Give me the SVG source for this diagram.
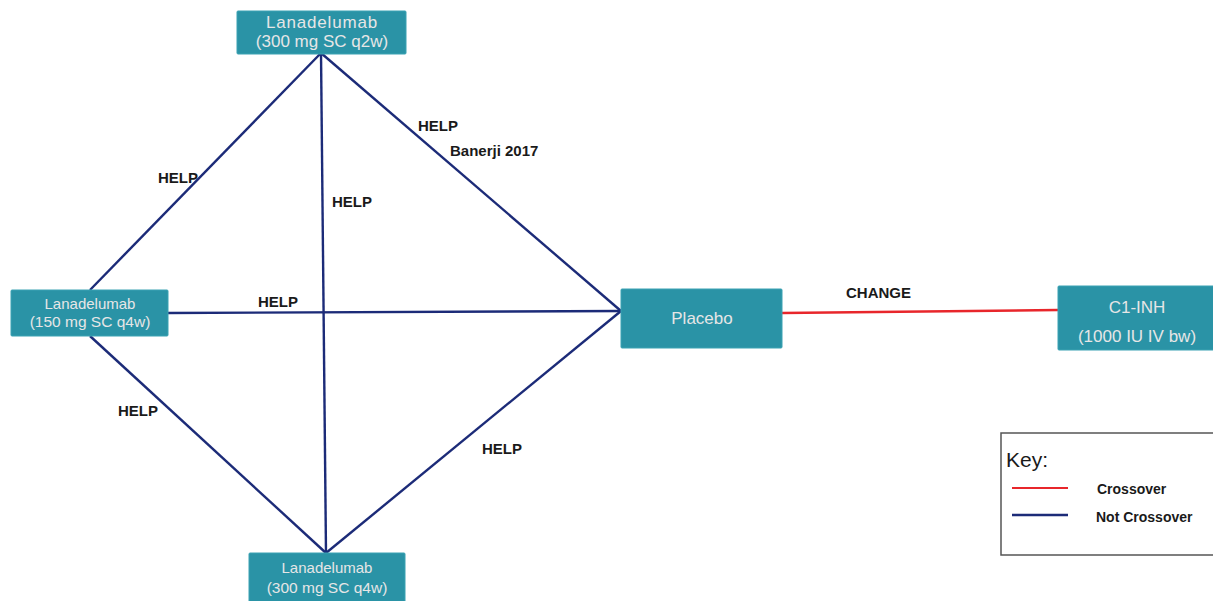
<svg xmlns="http://www.w3.org/2000/svg" width="1213" height="601" viewBox="0 0 1213 601">
<style>
.node{fill:#2a93a6;stroke:#3aa2b3;stroke-width:1}
.nt{font-family:"Liberation Sans",Arial,sans-serif;fill:#e6e6e6;text-anchor:middle}
.lbl{font-family:"Liberation Sans",Arial,sans-serif;font-weight:bold;font-size:15px;fill:#1a1a1a}
.blue{stroke:#1c2b78;stroke-width:2.4;fill:none}
.red{stroke:#e8262b;stroke-width:2.4;fill:none}
</style>
<rect width="1213" height="601" fill="#ffffff"/>
<g id="connectors">
<line class="blue" x1="321" y1="53" x2="621" y2="311"/>
<line class="blue" x1="321" y1="53" x2="326" y2="553"/>
<line class="blue" x1="321" y1="53" x2="90" y2="290"/>
<line class="blue" x1="168" y1="313" x2="621" y2="311"/>
<line class="blue" x1="90" y1="336" x2="326" y2="553"/>
<line class="blue" x1="326" y1="553" x2="621" y2="311"/>
<line class="red" x1="782" y1="313" x2="1058" y2="310"/>
<text class="lbl" x="158" y="183">HELP</text>
<text class="lbl" x="418" y="131">HELP</text>
<text class="lbl" x="450" y="156">Banerji 2017</text>
<text class="lbl" x="332" y="207">HELP</text>
<text class="lbl" x="258" y="307">HELP</text>
<text class="lbl" x="118" y="416">HELP</text>
<text class="lbl" x="482" y="454">HELP</text>
<text class="lbl" x="846" y="298">CHANGE</text>
</g>
<g id="node-lan300q2w">
<rect class="node" x="237" y="11" width="169" height="43" rx="1"/>
<text class="nt" x="322" y="28" font-size="17" letter-spacing="0.8">Lanadelumab</text>
<text class="nt" x="322" y="47" font-size="17">(300 mg SC q2w)</text>
</g>
<g id="node-lan150q4w">
<rect class="node" x="11" y="290" width="157" height="46" rx="1"/>
<text class="nt" x="90" y="309" font-size="15">Lanadelumab</text>
<text class="nt" x="90" y="327" font-size="15.5">(150 mg SC q4w)</text>
</g>
<g id="node-lan300q4w">
<rect class="node" x="249" y="553" width="156" height="52" rx="1"/>
<text class="nt" x="327" y="573" font-size="15">Lanadelumab</text>
<text class="nt" x="327" y="593" font-size="15.5">(300 mg SC q4w)</text>
</g>
<g id="node-placebo">
<rect class="node" x="621" y="289" width="161" height="59" rx="1"/>
<text class="nt" x="702" y="324" font-size="17">Placebo</text>
</g>
<g id="node-c1inh">
<rect class="node" x="1058" y="286" width="160" height="64" rx="1"/>
<text class="nt" x="1137" y="313" font-size="17">C1-INH</text>
<text class="nt" x="1137" y="342" font-size="17">(1000 IU IV bw)</text>
</g>
<g id="key">
<rect x="1001" y="433" width="215" height="122" fill="#ffffff" stroke="#555555" stroke-width="1.5"/>
<text x="1006" y="467" font-family="'Liberation Sans',Arial,sans-serif" font-size="21" fill="#1a1a1a">Key:</text>
<line x1="1012" y1="488" x2="1068" y2="488" stroke="#e8262b" stroke-width="2"/>
<line x1="1012" y1="515" x2="1068" y2="515" stroke="#1c2b78" stroke-width="2.5"/>
<text x="1097" y="494" font-family="'Liberation Sans',Arial,sans-serif" font-weight="bold" font-size="14" fill="#1a1a1a">Crossover</text>
<text x="1096" y="522" font-family="'Liberation Sans',Arial,sans-serif" font-weight="bold" font-size="14" fill="#1a1a1a">Not Crossover</text>
</g>
</svg>
